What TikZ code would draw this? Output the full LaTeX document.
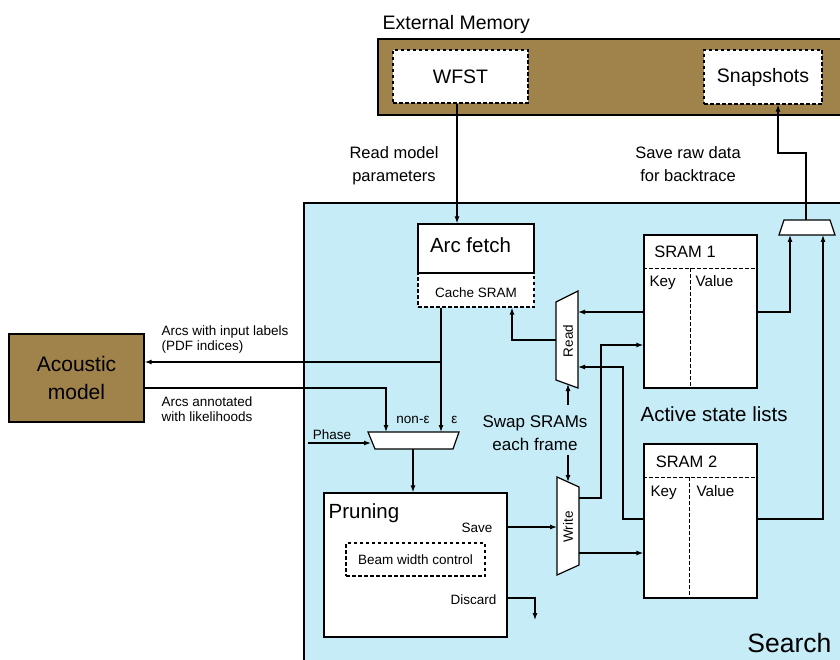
\documentclass[tikz,border=0pt]{standalone}
\usepackage{fontspec}
\setmainfont{Liberation Sans}
\usetikzlibrary{arrows.meta}
\definecolor{membrown}{RGB}{160,130,75}
\definecolor{searchblue}{RGB}{198,236,248}

\begin{document}
\begin{tikzpicture}[x=1pt, y=-1pt, line width=1.2pt,
    box/.style={draw, fill=white, inner sep=0pt},
    dbox/.style={box, dash pattern=on 3.5pt off 2.5pt},
    dline/.style={dash pattern=on 3.5pt off 2.5pt, line width=1pt},
    mux/.style={draw, fill=white},
    lbl/.style={inner sep=0pt, font=\fontsize{13.5}{15.5}\selectfont},
    keylbl/.style={inner sep=0pt, font=\fontsize{15.2}{18}\selectfont},
    midlbl/.style={inner sep=0pt, font=\fontsize{16.5}{22.5}\selectfont},
    memlbl/.style={inner sep=0pt, font=\fontsize{19.5}{23}\selectfont},
    biglbl/.style={inner sep=0pt, font=\fontsize{20.5}{28}\selectfont},
    searchlbl/.style={inner sep=0pt, font=\fontsize{26.5}{30}\selectfont},
    >={Latex[length=7pt,width=5pt]}]
  \useasboundingbox (0,0) rectangle (840,660);

  % memory and search areas
  \draw[fill=membrown] (378,39) rectangle (860,115);
  \draw[fill=searchblue] (304,203) rectangle (860,680);
  \node[memlbl, anchor=north west] (memname) at (382,15) {External Memory};
  \node[dbox, memlbl, minimum width=135, minimum height=53] (wfst) at (460.5,76.5) {WFST};
  \node[dbox, memlbl, minimum width=118, minimum height=54] (snap) at (763,77) {Snapshots};
  \node[searchlbl, anchor=base east] (searchname) at (832,652) {Search};

  % acoustic model
  \node[draw, fill=membrown, inner sep=0pt, minimum width=135, minimum height=88,
    align=center, font=\fontsize{21}{28}\selectfont] (acoustic) at (76.5,378) {Acoustic\\model};
  \node[lbl, align=left, anchor=north west] (arcsin) at (161,325) {Arcs with input labels\\(PDF indices)};
  \node[lbl, align=left, anchor=north west] (arcsout) at (161,396) {Arcs annotated\\with likelihoods};
  \node[midlbl, align=center, anchor=north] (readlbl) at (394,146) {Read model\\parameters};
  \node[midlbl, align=center, anchor=north] (savelbl) at (688,146) {Save raw data\\for backtrace};

  % arc fetch
  \node[dbox, minimum width=116, minimum height=34] (cache) at (476,290) {};
  \node[box, minimum width=116, minimum height=49] (arc) at (476,248.5) {};
  \node[biglbl, anchor=base] (arcname) at (470.5,252) {Arc fetch};
  \node[lbl, anchor=base] (cachename) at (476,297) {Cache SRAM};

  % state lists
  \node[box, minimum width=113, minimum height=153] (sram1) at (700.5,311.5) {};
  \draw[dline] (sram1.west |- 0,268) -- (sram1.east |- 0,268);
  \draw[dline] (690,268) -- (sram1.south -| 690,0);
  \node[midlbl, anchor=base] (sram1name) at (685,258) {SRAM 1};
  \node[keylbl, anchor=base west] (key1) at (649,287) {Key};
  \node[keylbl, anchor=base west] (val1) at (695,287) {Value};

  \node[box, minimum width=113, minimum height=154] (sram2) at (700.5,521) {};
  \draw[dline] (sram2.west |- 0,477) -- (sram2.east |- 0,477);
  \draw[dline] (689,477) -- (sram2.south -| 689,0);
  \node[midlbl, anchor=base] (sram2name) at (686.5,467) {SRAM 2};
  \node[keylbl, anchor=base west] (key2) at (650,496) {Key};
  \node[keylbl, anchor=base west] (val2) at (696,496) {Value};
  \node[biglbl, anchor=base west] (aslname) at (640,421) {Active state lists};

  % multiplexers
  \draw[mux] (784,220) -- (830,220) -- (835,235) -- (779,235) -- cycle;
  \coordinate (smuxo) at (806,220);
  \coordinate (smuxa) at (790,235);
  \coordinate (smuxb) at (823,235);

  \draw[mux] (556,302) -- (578,291) -- (578,388) -- (556,380) -- cycle;
  \node[lbl, rotate=90] (readname) at (568,341) {Read};
  \coordinate (rdin1) at (578,312);
  \coordinate (rdin2) at (578,367);
  \coordinate (rdout) at (556,340);
  \coordinate (rdsel) at (568,384);

  \draw[mux] (557,477) -- (579,487) -- (579,565) -- (557,575) -- cycle;
  \node[lbl, rotate=90] (writename) at (568,527) {Write};
  \coordinate (wrin) at (557,527);
  \coordinate (wrout1) at (579,498);
  \coordinate (wrout2) at (579,553);
  \coordinate (wrsel) at (568,482);

  \node[inner sep=0pt, font=\fontsize{17}{23}\selectfont, align=center, anchor=north] (swap) at (535,415) {Swap SRAMs\\each frame};
  \coordinate (swapup) at (568,405);
  \coordinate (swapdn) at (568,455);

  \draw[mux] (368,432) -- (459,432) -- (453,449) -- (375,449) -- cycle;
  \coordinate (pmuxa) at (386,432);
  \coordinate (pmuxb) at (441,432);
  \coordinate (pmuxph) at (371,443);
  \coordinate (pmuxo) at (413,449);
  \coordinate (phasein) at (308,443);
  \node[lbl, anchor=base] (phasename) at (332,439) {Phase};
  \node[lbl, anchor=base] (nonepsname) at (413,423) {non-ε};
  \node[lbl, anchor=base] (epsname) at (454.5,423) {ε};

  % pruning
  \node[box, minimum width=183, minimum height=144] (prune) at (415.5,565) {};
  \node[biglbl, anchor=base west] (prunename) at (328,518) {Pruning};
  \node[lbl, anchor=base east] (savename) at (493,532) {Save};
  \node[dbox, lbl, minimum width=139, minimum height=33] (beam) at (415.5,559.5) {Beam width control};
  \node[lbl, anchor=base east] (discardname) at (497,604) {Discard};
  \coordinate (discardout) at (535,620);

  % connections
  \draw[->] (wfst.south -| 457,0) -- (arc.north -| 457,0);
  \draw[->] (smuxo) |- (778,153) -- (snap.south -| 778,0);
  \draw[->] (sram1.west |- rdin1) -- (rdin1);
  \draw[->] (rdout) -| (cache.south -| 512,0);
  \draw[->] (wrout1) -| (601,345) -- (sram1.west |- 0,345);
  \draw[->] (sram2.west |- 0,519) -| (623,367) -- (rdin2);
  \draw[->] (wrout2) -- (sram2.west |- wrout2);
  \draw[->] (prune.east |- wrin) -- (wrin);
  \draw[->] (sram1.east |- rdin1) -| (smuxa);
  \draw[->] (sram2.east |- 0,519) -| (smuxb);
  \draw[->] (cache.south -| pmuxb) -- (pmuxb);
  \coordinate (arcsplit) at (441,362);
  \draw[->] (arcsplit) -- (acoustic.east |- arcsplit);
  \draw[->] (acoustic.east |- 0,388) -| (pmuxa);
  \draw[->] (phasein) -- (pmuxph);
  \draw[->] (pmuxo) -- (prune.north -| pmuxo);
  \draw[->] (prune.east |- 0,598) -| (discardout);
  \draw[->] (swapup) -- (rdsel);
  \draw[->] (swapdn) -- (wrsel);
\end{tikzpicture}
\end{document}
